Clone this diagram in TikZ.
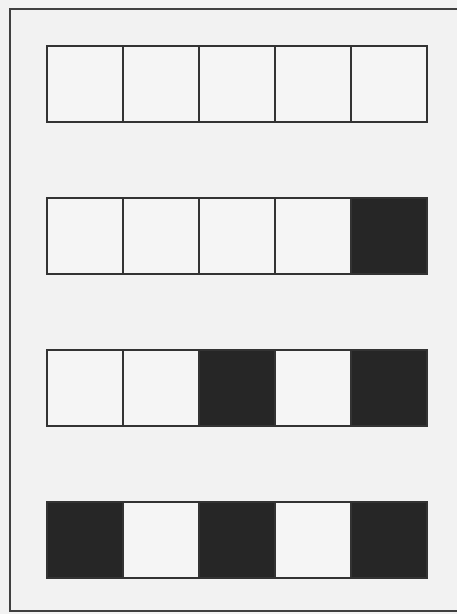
\documentclass[tikz,border=0pt]{standalone}
\begin{document}
\begin{tikzpicture}[x=1pt,y=-1pt,
  cell/.style={draw=black!80, line width=1.6pt, minimum size=76pt, inner sep=0pt, outer sep=0pt, fill=white!96!black},
  dark/.style={cell, fill=black!85},
  frame/.style={draw=black!75, line width=1.4pt}]
\fill[white!95!black] (0,0) rectangle (457,614);
\useasboundingbox (0,0) rectangle (457,614);
\draw[frame] (470,9) -- (10,9) -- (10,611) -- (470,611);
\foreach \r/\a/\b/\c/\d/\e in {1/cell/cell/cell/cell/cell,2/cell/cell/cell/cell/dark,3/cell/cell/dark/cell/dark,4/dark/cell/dark/cell/dark}{
  \node[\a] (r\r c1) at (85,{84+152*(\r-1)}) {};
  \node[\b] (r\r c2) at (161,{84+152*(\r-1)}) {};
  \node[\c] (r\r c3) at (237,{84+152*(\r-1)}) {};
  \node[\d] (r\r c4) at (313,{84+152*(\r-1)}) {};
  \node[\e] (r\r c5) at (389,{84+152*(\r-1)}) {};
}
\end{tikzpicture}
\end{document}
